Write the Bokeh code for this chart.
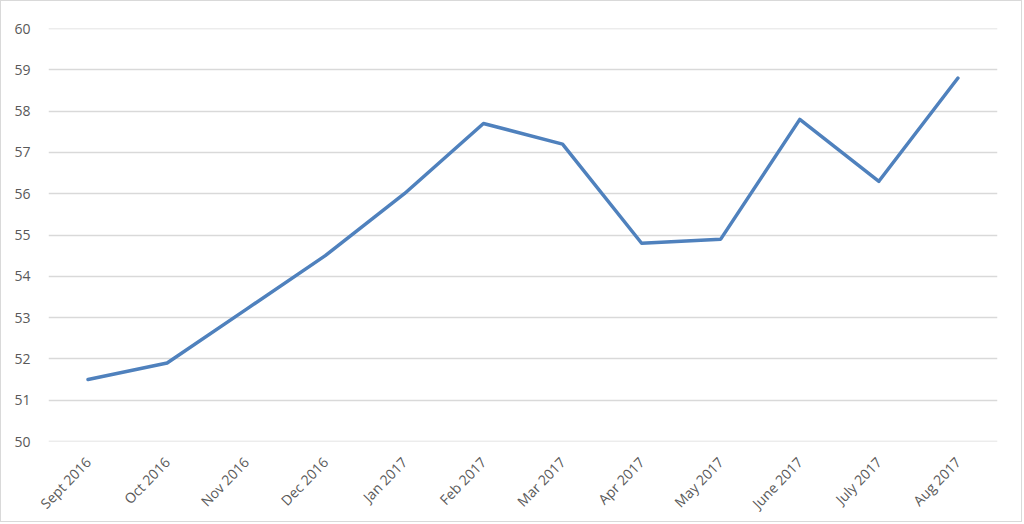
import math
from bokeh.plotting import figure
from bokeh.models import FactorRange, Range1d, ColumnDataSource, FixedTicker, Span
from bokeh.embed import file_html
from bokeh.resources import INLINE

months = ["Sept 2016", "Oct 2016", "Nov 2016", "Dec 2016", "Jan 2017", "Feb 2017",
          "Mar 2017", "Apr 2017", "May 2017", "June 2017", "July 2017", "Aug 2017"]
values = [51.5, 51.9, 53.2, 54.5, 56.0, 57.7, 57.2, 54.8, 54.9, 57.8, 56.3, 58.8]
y_ticks = [50, 51, 52, 53, 54, 55, 56, 57, 58, 59, 60]

src = ColumnDataSource(dict(x=months, y=values))

p = figure(width=1022, height=522, output_backend="svg", toolbar_location=None,
           x_range=FactorRange(*months, range_padding=0), y_range=Range1d(50, 60),
           min_border_left=47, min_border_right=26, min_border_top=27, min_border_bottom=82)
p.styles = {"border": "1px solid #d9d9d9"}
p.outline_line_color = None
p.background_fill_color = "white"
p.border_fill_color = "white"

p.xgrid.grid_line_color = None
p.ygrid.grid_line_color = "#d9d9d9"
p.ygrid.grid_line_width = 1.3
p.yaxis.ticker = FixedTicker(ticks=y_ticks)
for t in (y_ticks[0], y_ticks[-1]):
    p.add_layout(Span(location=t, dimension="width", line_color="#d9d9d9",
                      line_width=1.3, level="underlay"))

p.line("x", "y", source=src, line_color="#4f81bd", line_width=3.5, line_join="round", line_cap="round")

for ax in (p.xaxis[0], p.yaxis[0]):
    ax.axis_line_color = None
    ax.major_tick_line_color = None
    ax.minor_tick_line_color = None
    ax.major_label_text_color = "#595959"
    ax.major_label_text_font = "Open Sans"
    ax.major_label_text_font_size = "14px"
p.yaxis.major_label_standoff = 12
p.xaxis.major_label_orientation = 0.8
p.xaxis.major_label_standoff = 12

open("out.html", "w").write(file_html(p, INLINE))
